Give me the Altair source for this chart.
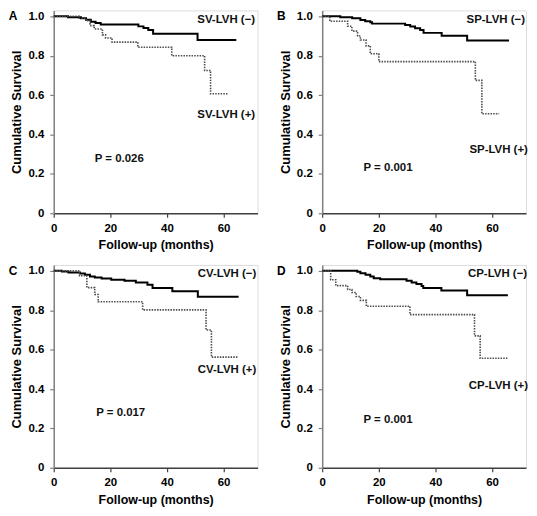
import altair as alt
import pandas as pd

# ---- data ----
A_NEG_T = [0, 5, 9.6, 11.4, 13.1, 14.8, 16.6, 29.9, 31.7, 33.4, 35.1, 50.8, 64.5]
A_NEG_S = [1, 0.995, 0.99, 0.983, 0.973, 0.966, 0.958, 0.949, 0.941, 0.931, 0.911, 0.880, 0.880]
A_POS_T = [0, 9, 11.4, 12.8, 14.3, 17.2, 18.3, 20.6, 29.7, 41.7, 53.3, 55.4, 61.8]
A_POS_S = [1, 0.99, 0.978, 0.953, 0.936, 0.906, 0.89, 0.869, 0.843, 0.80, 0.725, 0.607, 0.607]

B_NEG_T = [0, 6.4, 10.6, 13.5, 15.2, 17, 17.6, 29.3, 31.1, 32.8, 34.6, 35.8, 42.2, 51.2, 66]
B_NEG_S = [1, 0.995, 0.99, 0.981, 0.975, 0.97, 0.963, 0.956, 0.948, 0.939, 0.931, 0.916, 0.902, 0.877, 0.877]
B_POS_T = [0, 2.7, 9, 10.5, 12.5, 13.5, 15.5, 17, 20, 54.1, 56.4, 62.5]
B_POS_S = [1, 0.975, 0.95, 0.925, 0.9, 0.88, 0.85, 0.81, 0.77, 0.675, 0.505, 0.505]

C_NEG_T = [0, 2.9, 5.2, 9.3, 11, 12.8, 14.5, 16.9, 20.3, 25, 29, 33.1, 34.9, 41.9, 50.9, 65.3]
C_NEG_S = [1, 0.997, 0.992, 0.987, 0.98, 0.971, 0.966, 0.961, 0.955, 0.95, 0.941, 0.929, 0.913, 0.896, 0.869, 0.869]
C_POS_T = [0, 9.1, 11.7, 14.5, 15.7, 31.4, 53.8, 55.7, 65.3]
C_POS_S = [1, 0.975, 0.915, 0.88, 0.843, 0.802, 0.70, 0.562, 0.562]

D_NEG_T = [0, 12.4, 13.5, 15.3, 17, 18.2, 20.5, 29.8, 31.6, 33.3, 35.1, 35.7, 42.1, 51.2, 65.6]
D_NEG_S = [1, 0.995, 0.988, 0.98, 0.971, 0.963, 0.958, 0.95, 0.941, 0.933, 0.923, 0.913, 0.9, 0.876, 0.876]
D_POS_T = [0, 3, 4.8, 9, 10.5, 12, 13.5, 15.6, 31, 53.8, 55.8, 65.6]
D_POS_S = [1, 0.955, 0.925, 0.905, 0.89, 0.87, 0.85, 0.82, 0.778, 0.67, 0.556, 0.556]

LETTERS = ["A", "B", "C", "D"]
NEG_LABELS = ["SV-LVH (\u2212)", "SP-LVH (\u2212)", "CV-LVH (\u2212)", "CP-LVH (\u2212)"]
POS_LABELS = ["SV-LVH (+)", "SP-LVH (+)", "CV-LVH (+)", "CP-LVH (+)"]
P_TEXTS = ["P = 0.026", "P = 0.001", "P = 0.017", "P = 0.001"]
# label anchor positions (months, survival)
NEG_POS = [(50.7, 0.981), (51.0, 0.983), (50.9, 0.983), (51.5, 0.983)]
POS_POS = [(50.7, 0.497), (52.0, 0.323), (50.9, 0.497), (51.8, 0.413)]
P_POS = [(14.5, 0.276), (14.6, 0.23), (15.0, 0.278), (14.6, 0.245)]

X_TICKS = [0, 20, 40, 60]
Y_TICKS = [0, 0.2, 0.4, 0.6, 0.8, 1.0]

FONT = "Liberation Sans"
W, H = 205, 204


def panel(i, neg_t, neg_s, pos_t, pos_s):
    xs = alt.Scale(domain=[0, 72], nice=False, zero=True)
    ys = alt.Scale(domain=[0, 1.03], nice=False, zero=True)
    xax = alt.Axis(values=X_TICKS, title="Follow-up (months)", grid=False,
                   domainColor="#404040", domainWidth=1.5, tickColor="#404040",
                   tickWidth=1.2, tickSize=4, labelFlush=False,
                   labelFontSize=11.5, labelFontWeight="bold", labelColor="black",
                   labelPadding=5, titleFontSize=12.5, titleFontWeight="bold",
                   titleColor="black", titlePadding=5, labelFont=FONT, titleFont=FONT)
    yax = alt.Axis(values=Y_TICKS, title="Cumulative Survival", grid=False,
                   domainColor="#808080", domainWidth=1.5, tickColor="#808080",
                   tickWidth=1.2, tickSize=4, labelFlush=False,
                   labelExpr="datum.value == 0 ? '0' : format(datum.value, '.1f')",
                   labelFontSize=11.5, labelFontWeight="bold", labelColor="black",
                   labelPadding=6, titleFontSize=13, titleFontWeight="bold",
                   titleColor="black", titlePadding=4, labelFont=FONT, titleFont=FONT)

    neg = pd.DataFrame({"t": neg_t, "s": neg_s})
    pos = pd.DataFrame({"t": pos_t, "s": pos_s})

    neg_line = alt.Chart(neg).mark_line(interpolate="step-after", color="black",
                                        strokeWidth=2).encode(
        x=alt.X("t:Q", scale=xs, axis=xax), y=alt.Y("s:Q", scale=ys, axis=yax))
    pos_line = alt.Chart(pos).mark_line(interpolate="step-after", color="#4d4d4d",
                                        strokeWidth=1.6, strokeDash=[1.5, 1.2]).encode(
        x=alt.X("t:Q", scale=xs), y=alt.Y("s:Q", scale=ys))

    labels = pd.DataFrame({
        "t": [NEG_POS[i][0], POS_POS[i][0], P_POS[i][0]],
        "s": [NEG_POS[i][1], POS_POS[i][1], P_POS[i][1]],
        "txt": [NEG_LABELS[i], POS_LABELS[i], P_TEXTS[i]],
    })
    txt = alt.Chart(labels).mark_text(align="left", baseline="middle", fontSize=11.5,
                                      fontWeight="bold", font=FONT, color="#111111").encode(
        x=alt.X("t:Q", scale=xs), y=alt.Y("s:Q", scale=ys), text="txt:N")

    letter = alt.Chart(pd.DataFrame({"l": [LETTERS[i]]})).mark_text(
        align="center", baseline="middle", fontSize=12, fontWeight="bold",
        font=FONT, color="black").encode(
        x=alt.value(-41), y=alt.datum(1.0, scale=ys), text="l:N")

    return alt.layer(neg_line, pos_line, txt, letter).properties(width=W, height=H)


pA = panel(0, A_NEG_T, A_NEG_S, A_POS_T, A_POS_S)
pB = panel(1, B_NEG_T, B_NEG_S, B_POS_T, B_POS_S)
pC = panel(2, C_NEG_T, C_NEG_S, C_POS_T, C_POS_S)
pD = panel(3, D_NEG_T, D_NEG_S, D_POS_T, D_POS_S)

chart = alt.vconcat(
    alt.hconcat(pA, pB, spacing=18),
    alt.hconcat(pC, pD, spacing=18),
    spacing=12,
).properties(padding=0).configure_view(stroke=None).configure(font=FONT, background="white")

chart.save("out.html", embed_options={"renderer": "svg", "actions": False})
